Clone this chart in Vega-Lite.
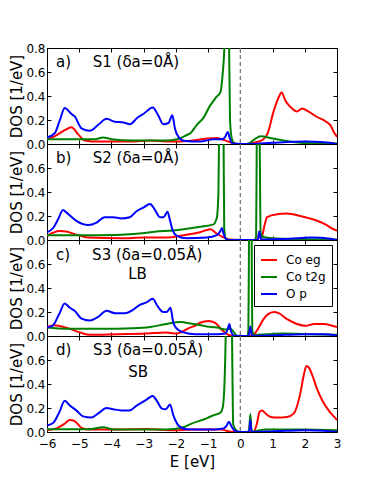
{
  "$schema": "https://vega.github.io/schema/vega-lite/v6.json",
  "padding": {"left": 9, "top": 41, "right": 5, "bottom": 5},
  "spacing": 0,
  "bounds": "flush",
  "background": "white",
  "config": {
    "view": {"stroke": "black", "strokeWidth": 1},
    "axis": {
      "grid": false, "domainColor": "black", "domainWidth": 1, "tickColor": "black", "tickSize": -4, "tickWidth": 1,
      "labelFont": "DejaVu Sans", "labelFontSize": 12, "labelColor": "black", "labelPadding": 6, "labelFlush": false, "labelOverlap": false,
      "titleFont": "DejaVu Sans", "titleFontSize": 15, "titleFontWeight": "normal", "titleColor": "black", "titlePadding": 1
    },
    "axisX": {"labelPadding": 10},
    "legend": {"labelFont": "DejaVu Sans", "labelFontSize": 12, "labelColor": "black"}
  },
  "resolve": {"scale": {"color": "independent"}, "legend": {"color": "independent"}},
  "datasets": {
    "ann": [
      {"p": "a", "E": -5.72, "v": 0.68, "t": "a)"},
      {"p": "a", "E": -4.58, "v": 0.68, "t": "S1 (δa=0Å)"},
      {"p": "b", "E": -5.72, "v": 0.68, "t": "b)"},
      {"p": "b", "E": -4.58, "v": 0.68, "t": "S2 (δa=0Å)"},
      {"p": "c", "E": -5.72, "v": 0.675, "t": "c)"},
      {"p": "c", "E": -4.6, "v": 0.675, "t": "S3 (δa=0.05Å)"},
      {"p": "c", "E": -3.48, "v": 0.52, "t": "LB"},
      {"p": "d", "E": -5.72, "v": 0.684, "t": "d)"},
      {"p": "d", "E": -4.57, "v": 0.684, "t": "S3 (δa=0.05Å)"},
      {"p": "d", "E": -3.48, "v": 0.5, "t": "SB"}
    ],
    "dos": [
      {"p":"a","s":"Co eg","E":-6,"v":0.04},{"p":"a","s":"Co eg","E":-5.8,"v":0.06},{"p":"a","s":"Co eg","E":-5.45,"v":0.115},{"p":"a","s":"Co eg","E":-5.24,"v":0.14},{"p":"a","s":"Co eg","E":-5.03,"v":0.08},{"p":"a","s":"Co eg","E":-4.83,"v":0.03},{"p":"a","s":"Co eg","E":-4.4,"v":0.02},{"p":"a","s":"Co eg","E":-3.4,"v":0.02},{"p":"a","s":"Co eg","E":-2.8,"v":0.03},{"p":"a","s":"Co eg","E":-2.2,"v":0.02},{"p":"a","s":"Co eg","E":-1.6,"v":0.025},{"p":"a","s":"Co eg","E":-1.04,"v":0.045},{"p":"a","s":"Co eg","E":-0.73,"v":0.05},{"p":"a","s":"Co eg","E":-0.47,"v":0.03},{"p":"a","s":"Co eg","E":-0.21,"v":0.005},{"p":"a","s":"Co eg","E":0.0,"v":0.0},{"p":"a","s":"Co eg","E":0.15,"v":0.0},{"p":"a","s":"Co eg","E":0.41,"v":0.01},{"p":"a","s":"Co eg","E":0.72,"v":0.04},{"p":"a","s":"Co eg","E":0.85,"v":0.09},{"p":"a","s":"Co eg","E":1.03,"v":0.27},{"p":"a","s":"Co eg","E":1.19,"v":0.39},{"p":"a","s":"Co eg","E":1.28,"v":0.43},{"p":"a","s":"Co eg","E":1.4,"v":0.36},{"p":"a","s":"Co eg","E":1.55,"v":0.31},{"p":"a","s":"Co eg","E":1.76,"v":0.27},{"p":"a","s":"Co eg","E":1.91,"v":0.295},{"p":"a","s":"Co eg","E":2.12,"v":0.27},{"p":"a","s":"Co eg","E":2.38,"v":0.225},{"p":"a","s":"Co eg","E":2.64,"v":0.19},{"p":"a","s":"Co eg","E":2.8,"v":0.155},{"p":"a","s":"Co eg","E":2.9,"v":0.1},{"p":"a","s":"Co eg","E":3.0,"v":0.06},
      {"p":"a","s":"Co t2g","E":-6,"v":0.04},{"p":"a","s":"Co t2g","E":-5,"v":0.04},{"p":"a","s":"Co t2g","E":-4.5,"v":0.04},{"p":"a","s":"Co t2g","E":-4.26,"v":0.055},{"p":"a","s":"Co t2g","E":-4.0,"v":0.04},{"p":"a","s":"Co t2g","E":-3.3,"v":0.03},{"p":"a","s":"Co t2g","E":-2.3,"v":0.03},{"p":"a","s":"Co t2g","E":-1.97,"v":0.04},{"p":"a","s":"Co t2g","E":-1.66,"v":0.075},{"p":"a","s":"Co t2g","E":-1.55,"v":0.09},{"p":"a","s":"Co t2g","E":-1.35,"v":0.16},{"p":"a","s":"Co t2g","E":-1.14,"v":0.22},{"p":"a","s":"Co t2g","E":-0.94,"v":0.32},{"p":"a","s":"Co t2g","E":-0.83,"v":0.36},{"p":"a","s":"Co t2g","E":-0.75,"v":0.39},{"p":"a","s":"Co t2g","E":-0.62,"v":0.43},{"p":"a","s":"Co t2g","E":-0.55,"v":0.58},{"p":"a","s":"Co t2g","E":-0.49,"v":0.85},{"p":"a","s":"Co t2g","E":-0.42,"v":2.0},{"p":"a","s":"Co t2g","E":-0.35,"v":0.85},{"p":"a","s":"Co t2g","E":-0.32,"v":0.2},{"p":"a","s":"Co t2g","E":-0.27,"v":0.05},{"p":"a","s":"Co t2g","E":-0.2,"v":0.01},{"p":"a","s":"Co t2g","E":-0.1,"v":0.0},{"p":"a","s":"Co t2g","E":0.2,"v":0.0},{"p":"a","s":"Co t2g","E":0.3,"v":0.01},{"p":"a","s":"Co t2g","E":0.45,"v":0.04},{"p":"a","s":"Co t2g","E":0.62,"v":0.065},{"p":"a","s":"Co t2g","E":0.75,"v":0.06},{"p":"a","s":"Co t2g","E":0.93,"v":0.05},{"p":"a","s":"Co t2g","E":1.34,"v":0.03},{"p":"a","s":"Co t2g","E":1.86,"v":0.01},{"p":"a","s":"Co t2g","E":2.5,"v":0.005},{"p":"a","s":"Co t2g","E":3.0,"v":0.005},
      {"p":"a","s":"O p","E":-6,"v":0.055},{"p":"a","s":"O p","E":-5.76,"v":0.09},{"p":"a","s":"O p","E":-5.6,"v":0.2},{"p":"a","s":"O p","E":-5.45,"v":0.3},{"p":"a","s":"O p","E":-5.24,"v":0.25},{"p":"a","s":"O p","E":-5.14,"v":0.23},{"p":"a","s":"O p","E":-4.93,"v":0.13},{"p":"a","s":"O p","E":-4.67,"v":0.11},{"p":"a","s":"O p","E":-4.41,"v":0.16},{"p":"a","s":"O p","E":-4.15,"v":0.21},{"p":"a","s":"O p","E":-3.89,"v":0.185},{"p":"a","s":"O p","E":-3.63,"v":0.18},{"p":"a","s":"O p","E":-3.43,"v":0.165},{"p":"a","s":"O p","E":-3.17,"v":0.225},{"p":"a","s":"O p","E":-3.01,"v":0.25},{"p":"a","s":"O p","E":-2.72,"v":0.305},{"p":"a","s":"O p","E":-2.55,"v":0.24},{"p":"a","s":"O p","E":-2.39,"v":0.165},{"p":"a","s":"O p","E":-2.23,"v":0.175},{"p":"a","s":"O p","E":-2.11,"v":0.24},{"p":"a","s":"O p","E":-2.03,"v":0.13},{"p":"a","s":"O p","E":-1.92,"v":0.06},{"p":"a","s":"O p","E":-1.72,"v":0.025},{"p":"a","s":"O p","E":-1.25,"v":0.02},{"p":"a","s":"O p","E":-0.83,"v":0.04},{"p":"a","s":"O p","E":-0.57,"v":0.04},{"p":"a","s":"O p","E":-0.47,"v":0.06},{"p":"a","s":"O p","E":-0.39,"v":0.1},{"p":"a","s":"O p","E":-0.32,"v":0.04},{"p":"a","s":"O p","E":-0.25,"v":0.005},{"p":"a","s":"O p","E":0.3,"v":0.0},{"p":"a","s":"O p","E":1.0,"v":0.01},{"p":"a","s":"O p","E":2.0,"v":0.02},{"p":"a","s":"O p","E":2.6,"v":0.015},{"p":"a","s":"O p","E":3.0,"v":0.0},

      {"p":"b","s":"Co eg","E":-6,"v":0.035},{"p":"b","s":"Co eg","E":-5.61,"v":0.075},{"p":"b","s":"Co eg","E":-5.4,"v":0.07},{"p":"b","s":"Co eg","E":-5.09,"v":0.045},{"p":"b","s":"Co eg","E":-4.72,"v":0.02},{"p":"b","s":"Co eg","E":-3.7,"v":0.015},{"p":"b","s":"Co eg","E":-3.0,"v":0.02},{"p":"b","s":"Co eg","E":-2.3,"v":0.02},{"p":"b","s":"Co eg","E":-1.76,"v":0.04},{"p":"b","s":"Co eg","E":-1.25,"v":0.065},{"p":"b","s":"Co eg","E":-0.93,"v":0.09},{"p":"b","s":"Co eg","E":-0.72,"v":0.05},{"p":"b","s":"Co eg","E":-0.5,"v":0.02},{"p":"b","s":"Co eg","E":-0.36,"v":0.005},{"p":"b","s":"Co eg","E":0.4,"v":0.0},{"p":"b","s":"Co eg","E":0.55,"v":0.01},{"p":"b","s":"Co eg","E":0.59,"v":0.07},{"p":"b","s":"Co eg","E":0.63,"v":0.01},{"p":"b","s":"Co eg","E":0.66,"v":0.02},{"p":"b","s":"Co eg","E":0.75,"v":0.12},{"p":"b","s":"Co eg","E":0.83,"v":0.19},{"p":"b","s":"Co eg","E":1.14,"v":0.215},{"p":"b","s":"Co eg","E":1.45,"v":0.22},{"p":"b","s":"Co eg","E":1.86,"v":0.2},{"p":"b","s":"Co eg","E":2.38,"v":0.16},{"p":"b","s":"Co eg","E":2.64,"v":0.13},{"p":"b","s":"Co eg","E":2.95,"v":0.083},{"p":"b","s":"Co eg","E":3.0,"v":0.08},
      {"p":"b","s":"Co t2g","E":-6,"v":0.04},{"p":"b","s":"Co t2g","E":-4.4,"v":0.04},{"p":"b","s":"Co t2g","E":-3.3,"v":0.05},{"p":"b","s":"Co t2g","E":-2.6,"v":0.07},{"p":"b","s":"Co t2g","E":-2.1,"v":0.08},{"p":"b","s":"Co t2g","E":-1.76,"v":0.09},{"p":"b","s":"Co t2g","E":-1.24,"v":0.11},{"p":"b","s":"Co t2g","E":-0.83,"v":0.13},{"p":"b","s":"Co t2g","E":-0.76,"v":0.16},{"p":"b","s":"Co t2g","E":-0.72,"v":0.2},{"p":"b","s":"Co t2g","E":-0.68,"v":0.4},{"p":"b","s":"Co t2g","E":-0.66,"v":0.85},{"p":"b","s":"Co t2g","E":-0.59,"v":2.0},{"p":"b","s":"Co t2g","E":-0.52,"v":0.85},{"p":"b","s":"Co t2g","E":-0.5,"v":0.1},{"p":"b","s":"Co t2g","E":-0.45,"v":0.01},{"p":"b","s":"Co t2g","E":-0.35,"v":0.0},{"p":"b","s":"Co t2g","E":0.45,"v":0.0},{"p":"b","s":"Co t2g","E":0.49,"v":0.03},{"p":"b","s":"Co t2g","E":0.51,"v":0.85},{"p":"b","s":"Co t2g","E":0.555,"v":2.0},{"p":"b","s":"Co t2g","E":0.6,"v":0.85},{"p":"b","s":"Co t2g","E":0.63,"v":0.06},{"p":"b","s":"Co t2g","E":0.72,"v":0.025},{"p":"b","s":"Co t2g","E":1.3,"v":0.01},{"p":"b","s":"Co t2g","E":3.0,"v":0.003},
      {"p":"b","s":"O p","E":-6,"v":0.065},{"p":"b","s":"O p","E":-5.81,"v":0.1},{"p":"b","s":"O p","E":-5.66,"v":0.17},{"p":"b","s":"O p","E":-5.5,"v":0.25},{"p":"b","s":"O p","E":-5.4,"v":0.23},{"p":"b","s":"O p","E":-5.09,"v":0.16},{"p":"b","s":"O p","E":-4.72,"v":0.125},{"p":"b","s":"O p","E":-4.46,"v":0.145},{"p":"b","s":"O p","E":-4.21,"v":0.19},{"p":"b","s":"O p","E":-3.95,"v":0.19},{"p":"b","s":"O p","E":-3.69,"v":0.18},{"p":"b","s":"O p","E":-3.43,"v":0.19},{"p":"b","s":"O p","E":-3.22,"v":0.24},{"p":"b","s":"O p","E":-3.01,"v":0.27},{"p":"b","s":"O p","E":-2.8,"v":0.3},{"p":"b","s":"O p","E":-2.67,"v":0.26},{"p":"b","s":"O p","E":-2.49,"v":0.19},{"p":"b","s":"O p","E":-2.38,"v":0.19},{"p":"b","s":"O p","E":-2.26,"v":0.235},{"p":"b","s":"O p","E":-2.18,"v":0.16},{"p":"b","s":"O p","E":-2.1,"v":0.08},{"p":"b","s":"O p","E":-1.97,"v":0.035},{"p":"b","s":"O p","E":-1.66,"v":0.015},{"p":"b","s":"O p","E":-1.04,"v":0.02},{"p":"b","s":"O p","E":-0.73,"v":0.04},{"p":"b","s":"O p","E":-0.63,"v":0.07},{"p":"b","s":"O p","E":-0.57,"v":0.1},{"p":"b","s":"O p","E":-0.52,"v":0.05},{"p":"b","s":"O p","E":-0.45,"v":0.01},{"p":"b","s":"O p","E":-0.35,"v":0.0},{"p":"b","s":"O p","E":0.54,"v":0.0},{"p":"b","s":"O p","E":0.59,"v":0.07},{"p":"b","s":"O p","E":0.64,"v":0.005},{"p":"b","s":"O p","E":1.5,"v":0.01},{"p":"b","s":"O p","E":2.2,"v":0.02},{"p":"b","s":"O p","E":2.8,"v":0.01},{"p":"b","s":"O p","E":3.0,"v":0.0},

      {"p":"c","s":"Co eg","E":-6,"v":0.075},{"p":"c","s":"Co eg","E":-5.8,"v":0.09},{"p":"c","s":"Co eg","E":-5.4,"v":0.07},{"p":"c","s":"Co eg","E":-4.98,"v":0.03},{"p":"c","s":"Co eg","E":-4.67,"v":0.01},{"p":"c","s":"Co eg","E":-3.8,"v":0.015},{"p":"c","s":"Co eg","E":-2.9,"v":0.02},{"p":"c","s":"Co eg","E":-2.3,"v":0.03},{"p":"c","s":"Co eg","E":-2.0,"v":0.02},{"p":"c","s":"Co eg","E":-1.56,"v":0.07},{"p":"c","s":"Co eg","E":-1.45,"v":0.08},{"p":"c","s":"Co eg","E":-1.25,"v":0.11},{"p":"c","s":"Co eg","E":-0.99,"v":0.125},{"p":"c","s":"Co eg","E":-0.78,"v":0.11},{"p":"c","s":"Co eg","E":-0.57,"v":0.05},{"p":"c","s":"Co eg","E":-0.37,"v":0.01},{"p":"c","s":"Co eg","E":-0.2,"v":0.0},{"p":"c","s":"Co eg","E":0.3,"v":0.0},{"p":"c","s":"Co eg","E":0.41,"v":0.01},{"p":"c","s":"Co eg","E":0.57,"v":0.07},{"p":"c","s":"Co eg","E":0.72,"v":0.14},{"p":"c","s":"Co eg","E":0.85,"v":0.18},{"p":"c","s":"Co eg","E":1.05,"v":0.2},{"p":"c","s":"Co eg","E":1.19,"v":0.19},{"p":"c","s":"Co eg","E":1.45,"v":0.14},{"p":"c","s":"Co eg","E":1.76,"v":0.1},{"p":"c","s":"Co eg","E":2.02,"v":0.085},{"p":"c","s":"Co eg","E":2.3,"v":0.1},{"p":"c","s":"Co eg","E":2.6,"v":0.1},{"p":"c","s":"Co eg","E":2.8,"v":0.09},{"p":"c","s":"Co eg","E":3.0,"v":0.075},
      {"p":"c","s":"Co t2g","E":-6,"v":0.07},{"p":"c","s":"Co t2g","E":-5.4,"v":0.06},{"p":"c","s":"Co t2g","E":-4.36,"v":0.06},{"p":"c","s":"Co t2g","E":-3.32,"v":0.065},{"p":"c","s":"Co t2g","E":-2.8,"v":0.075},{"p":"c","s":"Co t2g","E":-2.3,"v":0.1},{"p":"c","s":"Co t2g","E":-1.86,"v":0.116},{"p":"c","s":"Co t2g","E":-1.55,"v":0.105},{"p":"c","s":"Co t2g","E":-1.04,"v":0.08},{"p":"c","s":"Co t2g","E":-0.72,"v":0.07},{"p":"c","s":"Co t2g","E":-0.45,"v":0.055},{"p":"c","s":"Co t2g","E":-0.3,"v":0.06},{"p":"c","s":"Co t2g","E":-0.2,"v":0.03},{"p":"c","s":"Co t2g","E":-0.1,"v":0.003},{"p":"c","s":"Co t2g","E":0.22,"v":0.0},{"p":"c","s":"Co t2g","E":0.25,"v":0.05},{"p":"c","s":"Co t2g","E":0.27,"v":0.85},{"p":"c","s":"Co t2g","E":0.31,"v":2.0},{"p":"c","s":"Co t2g","E":0.35,"v":0.85},{"p":"c","s":"Co t2g","E":0.37,"v":0.05},{"p":"c","s":"Co t2g","E":0.42,"v":0.01},{"p":"c","s":"Co t2g","E":0.82,"v":0.015},{"p":"c","s":"Co t2g","E":1.3,"v":0.02},{"p":"c","s":"Co t2g","E":2.2,"v":0.015},{"p":"c","s":"Co t2g","E":3.0,"v":0.01},
      {"p":"c","s":"O p","E":-6,"v":0.07},{"p":"c","s":"O p","E":-5.81,"v":0.09},{"p":"c","s":"O p","E":-5.61,"v":0.19},{"p":"c","s":"O p","E":-5.45,"v":0.27},{"p":"c","s":"O p","E":-5.29,"v":0.235},{"p":"c","s":"O p","E":-5.14,"v":0.21},{"p":"c","s":"O p","E":-4.93,"v":0.145},{"p":"c","s":"O p","E":-4.67,"v":0.13},{"p":"c","s":"O p","E":-4.41,"v":0.16},{"p":"c","s":"O p","E":-4.15,"v":0.21},{"p":"c","s":"O p","E":-3.89,"v":0.19},{"p":"c","s":"O p","E":-3.58,"v":0.19},{"p":"c","s":"O p","E":-3.32,"v":0.22},{"p":"c","s":"O p","E":-3.12,"v":0.26},{"p":"c","s":"O p","E":-2.91,"v":0.28},{"p":"c","s":"O p","E":-2.72,"v":0.31},{"p":"c","s":"O p","E":-2.57,"v":0.25},{"p":"c","s":"O p","E":-2.39,"v":0.2},{"p":"c","s":"O p","E":-2.29,"v":0.2},{"p":"c","s":"O p","E":-2.17,"v":0.235},{"p":"c","s":"O p","E":-2.08,"v":0.11},{"p":"c","s":"O p","E":-1.97,"v":0.06},{"p":"c","s":"O p","E":-1.76,"v":0.03},{"p":"c","s":"O p","E":-1.4,"v":0.015},{"p":"c","s":"O p","E":-0.7,"v":0.015},{"p":"c","s":"O p","E":-0.47,"v":0.02},{"p":"c","s":"O p","E":-0.39,"v":0.06},{"p":"c","s":"O p","E":-0.34,"v":0.1},{"p":"c","s":"O p","E":-0.29,"v":0.04},{"p":"c","s":"O p","E":-0.21,"v":0.005},{"p":"c","s":"O p","E":0.0,"v":0.0},{"p":"c","s":"O p","E":0.26,"v":0.0},{"p":"c","s":"O p","E":0.31,"v":0.08},{"p":"c","s":"O p","E":0.36,"v":0.0},{"p":"c","s":"O p","E":1.0,"v":0.005},{"p":"c","s":"O p","E":2.0,"v":0.015},{"p":"c","s":"O p","E":2.6,"v":0.015},{"p":"c","s":"O p","E":3.0,"v":0.005},

      {"p":"d","s":"Co eg","E":-6,"v":0.015},{"p":"d","s":"Co eg","E":-5.7,"v":0.03},{"p":"d","s":"Co eg","E":-5.45,"v":0.07},{"p":"d","s":"Co eg","E":-5.29,"v":0.1},{"p":"d","s":"Co eg","E":-5.14,"v":0.09},{"p":"d","s":"Co eg","E":-4.93,"v":0.035},{"p":"d","s":"Co eg","E":-4.67,"v":0.02},{"p":"d","s":"Co eg","E":-3.9,"v":0.02},{"p":"d","s":"Co eg","E":-2.9,"v":0.025},{"p":"d","s":"Co eg","E":-2.2,"v":0.015},{"p":"d","s":"Co eg","E":-1.4,"v":0.02},{"p":"d","s":"Co eg","E":-0.57,"v":0.02},{"p":"d","s":"Co eg","E":-0.4,"v":0.008},{"p":"d","s":"Co eg","E":-0.2,"v":0.0},{"p":"d","s":"Co eg","E":0.4,"v":0.0},{"p":"d","s":"Co eg","E":0.51,"v":0.065},{"p":"d","s":"Co eg","E":0.6,"v":0.17},{"p":"d","s":"Co eg","E":0.67,"v":0.18},{"p":"d","s":"Co eg","E":0.8,"v":0.15},{"p":"d","s":"Co eg","E":0.95,"v":0.125},{"p":"d","s":"Co eg","E":1.14,"v":0.12},{"p":"d","s":"Co eg","E":1.45,"v":0.125},{"p":"d","s":"Co eg","E":1.66,"v":0.155},{"p":"d","s":"Co eg","E":1.86,"v":0.32},{"p":"d","s":"Co eg","E":1.97,"v":0.475},{"p":"d","s":"Co eg","E":2.05,"v":0.55},{"p":"d","s":"Co eg","E":2.12,"v":0.54},{"p":"d","s":"Co eg","E":2.23,"v":0.475},{"p":"d","s":"Co eg","E":2.38,"v":0.36},{"p":"d","s":"Co eg","E":2.54,"v":0.265},{"p":"d","s":"Co eg","E":2.74,"v":0.18},{"p":"d","s":"Co eg","E":2.9,"v":0.13},{"p":"d","s":"Co eg","E":3.0,"v":0.1},
      {"p":"d","s":"Co t2g","E":-6,"v":0.022},{"p":"d","s":"Co t2g","E":-4.7,"v":0.022},{"p":"d","s":"Co t2g","E":-4.26,"v":0.04},{"p":"d","s":"Co t2g","E":-3.9,"v":0.02},{"p":"d","s":"Co t2g","E":-2.3,"v":0.02},{"p":"d","s":"Co t2g","E":-1.77,"v":0.04},{"p":"d","s":"Co t2g","E":-1.55,"v":0.066},{"p":"d","s":"Co t2g","E":-1.03,"v":0.116},{"p":"d","s":"Co t2g","E":-0.83,"v":0.14},{"p":"d","s":"Co t2g","E":-0.62,"v":0.16},{"p":"d","s":"Co t2g","E":-0.55,"v":0.2},{"p":"d","s":"Co t2g","E":-0.5,"v":0.35},{"p":"d","s":"Co t2g","E":-0.45,"v":0.85},{"p":"d","s":"Co t2g","E":-0.35,"v":3.0},{"p":"d","s":"Co t2g","E":-0.26,"v":0.85},{"p":"d","s":"Co t2g","E":-0.22,"v":0.06},{"p":"d","s":"Co t2g","E":-0.12,"v":0.012},{"p":"d","s":"Co t2g","E":0.0,"v":0.0},{"p":"d","s":"Co t2g","E":0.27,"v":0.005},{"p":"d","s":"Co t2g","E":0.31,"v":0.15},{"p":"d","s":"Co t2g","E":0.35,"v":0.005},{"p":"d","s":"Co t2g","E":0.8,"v":0.02},{"p":"d","s":"Co t2g","E":1.9,"v":0.02},{"p":"d","s":"Co t2g","E":3.0,"v":0.015},
      {"p":"d","s":"O p","E":-6,"v":0.055},{"p":"d","s":"O p","E":-5.81,"v":0.075},{"p":"d","s":"O p","E":-5.61,"v":0.17},{"p":"d","s":"O p","E":-5.45,"v":0.26},{"p":"d","s":"O p","E":-5.29,"v":0.22},{"p":"d","s":"O p","E":-5.09,"v":0.18},{"p":"d","s":"O p","E":-4.88,"v":0.13},{"p":"d","s":"O p","E":-4.62,"v":0.12},{"p":"d","s":"O p","E":-4.41,"v":0.155},{"p":"d","s":"O p","E":-4.15,"v":0.2},{"p":"d","s":"O p","E":-3.95,"v":0.19},{"p":"d","s":"O p","E":-3.69,"v":0.18},{"p":"d","s":"O p","E":-3.43,"v":0.18},{"p":"d","s":"O p","E":-3.22,"v":0.22},{"p":"d","s":"O p","E":-2.91,"v":0.27},{"p":"d","s":"O p","E":-2.72,"v":0.3},{"p":"d","s":"O p","E":-2.59,"v":0.26},{"p":"d","s":"O p","E":-2.43,"v":0.195},{"p":"d","s":"O p","E":-2.31,"v":0.19},{"p":"d","s":"O p","E":-2.18,"v":0.23},{"p":"d","s":"O p","E":-2.08,"v":0.14},{"p":"d","s":"O p","E":-1.92,"v":0.055},{"p":"d","s":"O p","E":-1.66,"v":0.022},{"p":"d","s":"O p","E":-1.04,"v":0.02},{"p":"d","s":"O p","E":-0.52,"v":0.03},{"p":"d","s":"O p","E":-0.42,"v":0.055},{"p":"d","s":"O p","E":-0.36,"v":0.085},{"p":"d","s":"O p","E":-0.26,"v":0.04},{"p":"d","s":"O p","E":-0.16,"v":0.008},{"p":"d","s":"O p","E":0.0,"v":0.0},{"p":"d","s":"O p","E":0.27,"v":0.0},{"p":"d","s":"O p","E":0.31,"v":0.1},{"p":"d","s":"O p","E":0.35,"v":0.0},{"p":"d","s":"O p","E":1.0,"v":0.005},{"p":"d","s":"O p","E":2.0,"v":0.015},{"p":"d","s":"O p","E":2.6,"v":0.01},{"p":"d","s":"O p","E":3.0,"v":0.0}
    ]
  },
  "vconcat": [
    {
      "width": 290, "height": 96,
      "layer": [
        {"data": {"name": "dos"}, "transform": [{"filter": "datum.p === 'a'"}],
         "mark": {"type": "line", "clip": true, "strokeWidth": 2, "interpolate": "monotone"},
         "encoding": {
           "x": {"field": "E", "type": "quantitative", "scale": {"domain": [-6, 3], "nice": false, "zero": false}, "axis": {"orient": "bottom", "values": [-6,-5,-4,-3,-2,-1,0,1,2,3], "labels": false, "title": null}},
           "y": {"field": "v", "type": "quantitative", "scale": {"domain": [0, 0.8], "nice": false}, "axis": {"orient": "left", "values": [0,0.2,0.4,0.6,0.8], "format": ".1f", "title": "DOS [1/eV]"}},
           "color": {"field": "s", "type": "nominal", "scale": {"domain": ["Co eg","Co t2g","O p"], "range": ["#ff0000","#008000","#0000ff"]}, "legend": null}
         }},
        {"data": {"values": [{"E": 0}]}, "mark": {"type": "rule", "strokeDash": [4, 3], "color": "#777777", "strokeWidth": 1.3},
         "encoding": {"x": {"field": "E", "type": "quantitative", "axis": {"orient": "top", "values": [-6,-5,-4,-3,-2,-1,0,1,2,3], "labels": false, "title": null}}}},
        {"data": {"name": "ann"}, "transform": [{"filter": "datum.p === 'a'"}],
         "mark": {"type": "text", "align": "left", "baseline": "middle", "fontSize": 15, "font": "DejaVu Sans", "color": "black"},
         "encoding": {"x": {"field": "E", "type": "quantitative", "axis": null}, "y": {"field": "v", "type": "quantitative", "axis": {"orient": "right", "values": [0,0.2,0.4,0.6,0.8], "labels": false, "title": null}}, "text": {"field": "t"}}}
      ]
    },
    {
      "width": 290, "height": 96,
      "layer": [
        {"data": {"name": "dos"}, "transform": [{"filter": "datum.p === 'b'"}],
         "mark": {"type": "line", "clip": true, "strokeWidth": 2, "interpolate": "monotone"},
         "encoding": {
           "x": {"field": "E", "type": "quantitative", "scale": {"domain": [-6, 3], "nice": false, "zero": false}, "axis": {"orient": "bottom", "values": [-6,-5,-4,-3,-2,-1,0,1,2,3], "labels": false, "title": null}},
           "y": {"field": "v", "type": "quantitative", "scale": {"domain": [0, 0.8], "nice": false}, "axis": {"orient": "left", "values": [0,0.2,0.4,0.6], "format": ".1f", "title": "DOS [1/eV]"}},
           "color": {"field": "s", "type": "nominal", "scale": {"domain": ["Co eg","Co t2g","O p"], "range": ["#ff0000","#008000","#0000ff"]}, "legend": null}
         }},
        {"data": {"values": [{"E": 0}]}, "mark": {"type": "rule", "strokeDash": [4, 3], "color": "#777777", "strokeWidth": 1.3},
         "encoding": {"x": {"field": "E", "type": "quantitative", "axis": {"orient": "top", "values": [-6,-5,-4,-3,-2,-1,0,1,2,3], "labels": false, "title": null}}}},
        {"data": {"name": "ann"}, "transform": [{"filter": "datum.p === 'b'"}],
         "mark": {"type": "text", "align": "left", "baseline": "middle", "fontSize": 15, "font": "DejaVu Sans", "color": "black"},
         "encoding": {"x": {"field": "E", "type": "quantitative", "axis": null}, "y": {"field": "v", "type": "quantitative", "axis": {"orient": "right", "values": [0,0.2,0.4,0.6], "labels": false, "title": null}}, "text": {"field": "t"}}}
      ]
    },
    {
      "width": 290, "height": 96,
      "layer": [
        {"data": {"name": "dos"}, "transform": [{"filter": "datum.p === 'c'"}],
         "mark": {"type": "line", "clip": true, "strokeWidth": 2, "interpolate": "monotone"},
         "encoding": {
           "x": {"field": "E", "type": "quantitative", "scale": {"domain": [-6, 3], "nice": false, "zero": false}, "axis": {"orient": "bottom", "values": [-6,-5,-4,-3,-2,-1,0,1,2,3], "labels": false, "title": null}},
           "y": {"field": "v", "type": "quantitative", "scale": {"domain": [0, 0.8], "nice": false}, "axis": {"orient": "left", "values": [0,0.2,0.4,0.6], "format": ".1f", "title": "DOS [1/eV]"}},
           "color": {"field": "s", "type": "nominal", "scale": {"domain": ["Co eg","Co t2g","O p"], "range": ["#ff0000","#008000","#0000ff"]},
             "legend": {"orient": "top-right", "offset": 5, "title": null, "symbolType": "stroke", "symbolStrokeWidth": 2, "symbolSize": 256, "labelFontSize": 12, "strokeColor": "black", "fillColor": "white", "padding": 6, "rowPadding": 2, "cornerRadius": 0, "labelOffset": 8}}
         }},
        {"data": {"values": [{"E": 0}]}, "mark": {"type": "rule", "strokeDash": [4, 3], "color": "#777777", "strokeWidth": 1.3},
         "encoding": {"x": {"field": "E", "type": "quantitative", "axis": {"orient": "top", "values": [-6,-5,-4,-3,-2,-1,0,1,2,3], "labels": false, "title": null}}}},
        {"data": {"name": "ann"}, "transform": [{"filter": "datum.p === 'c'"}],
         "mark": {"type": "text", "align": "left", "baseline": "middle", "fontSize": 15, "font": "DejaVu Sans", "color": "black"},
         "encoding": {"x": {"field": "E", "type": "quantitative", "axis": null}, "y": {"field": "v", "type": "quantitative", "axis": {"orient": "right", "values": [0,0.2,0.4,0.6], "labels": false, "title": null}}, "text": {"field": "t"}}}
      ]
    },
    {
      "width": 290, "height": 96,
      "layer": [
        {"data": {"name": "dos"}, "transform": [{"filter": "datum.p === 'd'"}],
         "mark": {"type": "line", "clip": true, "strokeWidth": 2, "interpolate": "monotone"},
         "encoding": {
           "x": {"field": "E", "type": "quantitative", "scale": {"domain": [-6, 3], "nice": false, "zero": false}, "axis": {"orient": "bottom", "values": [-6,-5,-4,-3,-2,-1,0,1,2,3], "format": "d", "title": "E [eV]", "titlePadding": 5}},
           "y": {"field": "v", "type": "quantitative", "scale": {"domain": [0, 0.8], "nice": false}, "axis": {"orient": "left", "values": [0,0.2,0.4,0.6], "format": ".1f", "title": "DOS [1/eV]"}},
           "color": {"field": "s", "type": "nominal", "scale": {"domain": ["Co eg","Co t2g","O p"], "range": ["#ff0000","#008000","#0000ff"]}, "legend": null}
         }},
        {"data": {"values": [{"E": 0}]}, "mark": {"type": "rule", "strokeDash": [4, 3], "color": "#777777", "strokeWidth": 1.3},
         "encoding": {"x": {"field": "E", "type": "quantitative", "axis": {"orient": "top", "values": [-6,-5,-4,-3,-2,-1,0,1,2,3], "labels": false, "title": null}}}},
        {"data": {"name": "ann"}, "transform": [{"filter": "datum.p === 'd'"}],
         "mark": {"type": "text", "align": "left", "baseline": "middle", "fontSize": 15, "font": "DejaVu Sans", "color": "black"},
         "encoding": {"x": {"field": "E", "type": "quantitative", "axis": null}, "y": {"field": "v", "type": "quantitative", "axis": {"orient": "right", "values": [0,0.2,0.4,0.6], "labels": false, "title": null}}, "text": {"field": "t"}}}
      ]
    }
  ]
}
